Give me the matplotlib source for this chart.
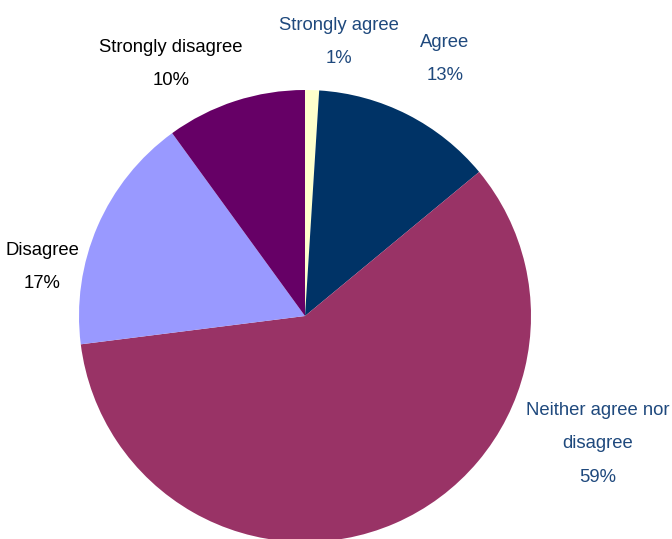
import matplotlib
matplotlib.use('Agg')
import matplotlib.pyplot as plt

categories = ['Strongly agree', 'Agree', 'Neither agree nor\ndisagree',
              'Disagree', 'Strongly disagree']
shares = [1, 13, 59, 17, 10]
colors = ['#FFFFCC', '#003366', '#993366', '#9999FF', '#660066']
label_colors = ['#1F497D', '#1F497D', '#1F497D', 'black', 'black']
# label anchors (centre x, top y) in figure pixels, top-left origin
label_pos = [(339, 17), (445, 34), (598, 402), (42, 242), (171, 39)]

W, H = 672, 539
plt.rcParams['font.family'] = ['Liberation Sans', 'DejaVu Sans']

fig = plt.figure(figsize=(W / 100, H / 100), dpi=100)
ax = fig.add_axes([0, 0, 1, 1])

ax.pie(shares, colors=colors, startangle=90, counterclock=False,
       center=(305, H - 316), radius=226,
       wedgeprops=dict(linewidth=0))

for cat, val, col, (x, y) in zip(categories, shares, label_colors, label_pos):
    ax.text(x, H - y, f'{cat}\n{val}%', ha='center', va='top',
            color=col, fontsize=13.3, linespacing=2.25)

ax.set_xlim(0, W)
ax.set_ylim(0, H)
ax.set_aspect('equal')
ax.axis('off')
fig.savefig('out.png', dpi=100, facecolor='white')
